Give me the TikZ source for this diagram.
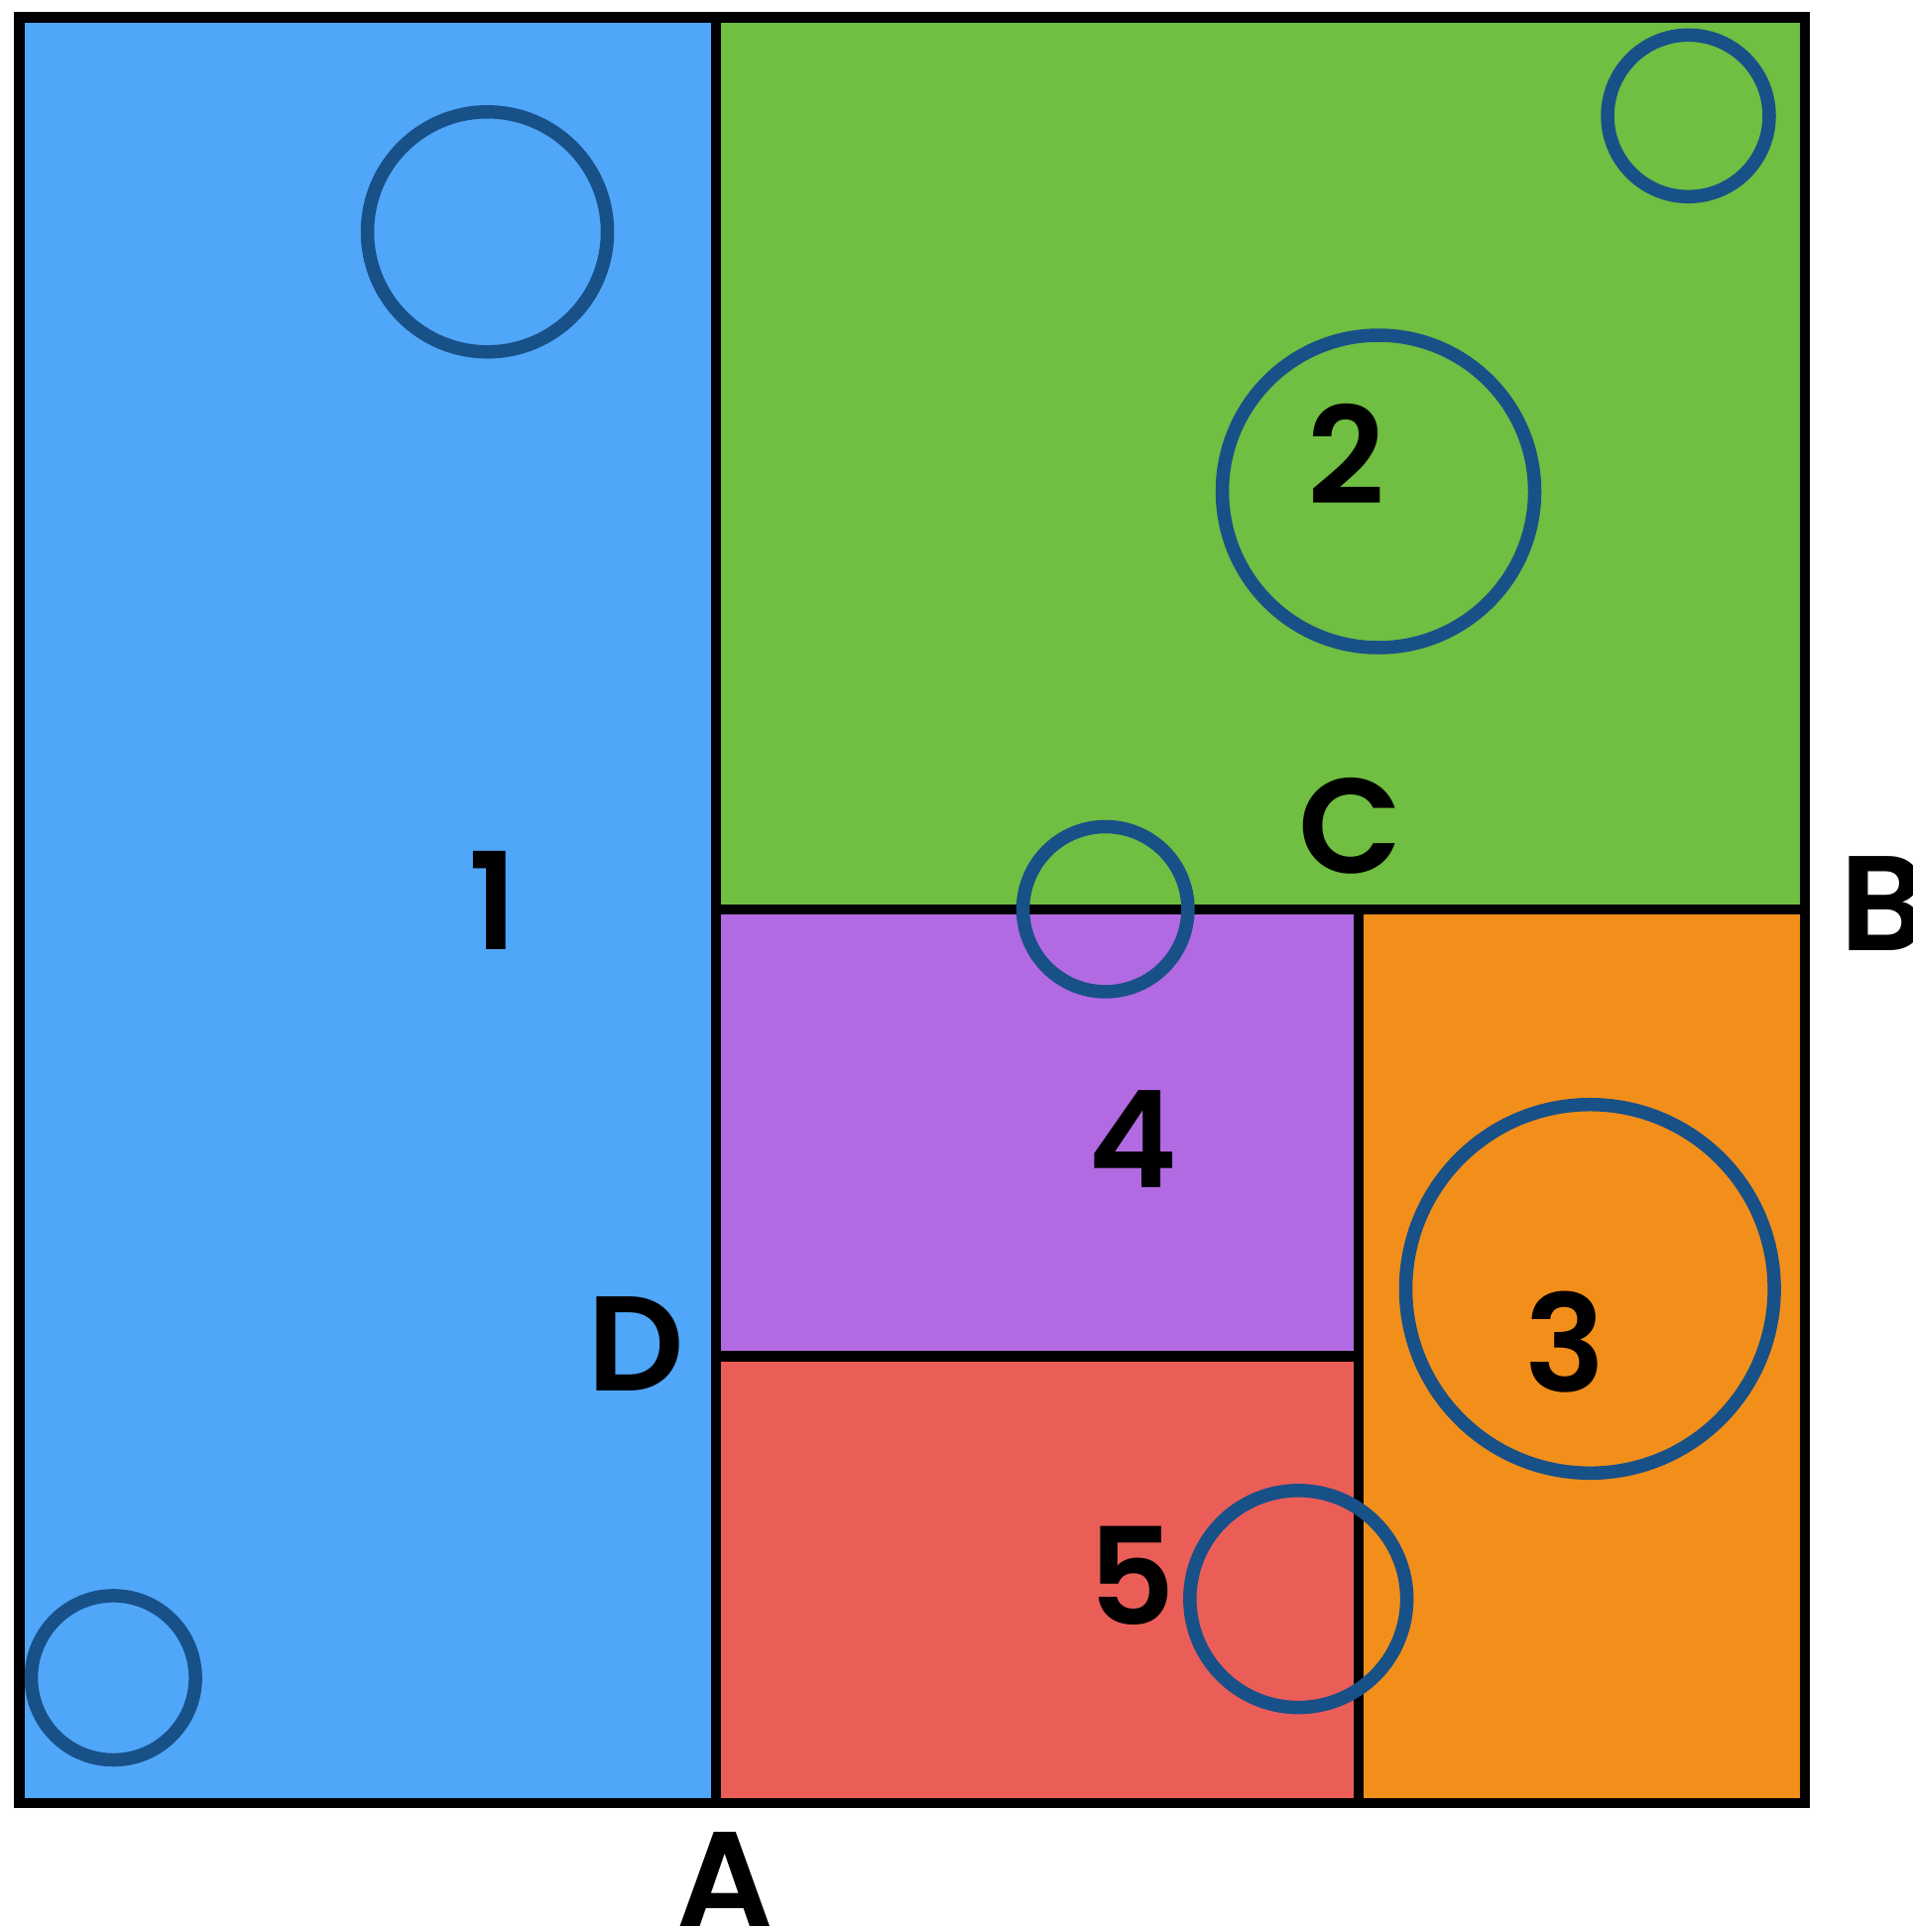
\documentclass[tikz,border=0pt]{standalone}
\usepackage{fontspec}
\setmainfont{Poppins}
\IfFontExistsTF{Poppins SemiBold}{\newfontfamily\lblfont{Poppins SemiBold}}{%
  \IfFontExistsTF{Poppins Medium}{\newfontfamily\lblfont{Poppins Medium}}{\newcommand\lblfont{\bfseries}}}
\definecolor{cblue}{HTML}{50A6F9}
\definecolor{cgreen}{HTML}{70BE42}
\definecolor{cpurple}{HTML}{B26AE2}
\definecolor{corange}{HTML}{F28F1A}
\definecolor{cred}{HTML}{EB5E58}
\definecolor{cring}{HTML}{185088}
\tikzset{
  grid/.style={draw=black,line width=10.5pt,line cap=rect},
  ring/.style={draw=cring,line width=13.5pt},
  lbl/.style={inner sep=0pt,anchor=base,font=\fontsize{136}{136}\lblfont}
}
\begin{document}
\begin{tikzpicture}[x=1pt,y=-1pt]
\useasboundingbox (0,0) rectangle (1929,1948);
% regions
\fill[cblue] (19.5,17.5) rectangle (722,1818);
\fill[cgreen] (722,17.5) rectangle (1820,917);
\fill[cpurple] (722,917) rectangle (1370,1367.5);
\fill[cred] (722,1367.5) rectangle (1370,1818);
\fill[corange] (1370,917) rectangle (1820,1818);
% grid lines
\draw[grid] (19.5,17.5) rectangle (1820,1818);
\draw[grid] (722,17.5) -- (722,1818);
\draw[grid] (722,917) -- (1820,917);
\draw[grid] (1370,917) -- (1370,1818);
\draw[grid] (722,1367.5) -- (1370,1367.5);
% circles
\draw[ring] (491.5,233.8) circle (121);
\draw[ring] (1702.5,116.8) circle (81.5);
\draw[ring] (1390,495.5) circle (157.5);
\draw[ring] (1114.7,916.7) circle (83.2);
\draw[ring] (1603.3,1299.5) circle (185.8);
\draw[ring] (1309.2,1612.2) circle (109.4);
\draw[ring] (114.3,1691.7) circle (82.8);
% labels
\node[lbl] (l1) at (497,957.7) {1};
\node[lbl] (l2) at (1358,508) {2};
\node[lbl] (lC) at (1362,880) {C};
\node[lbl] (lB) at (1899,958) {B};
\node[lbl] (l4) at (1142.7,1197.4) {4};
\node[lbl] (lD) at (641,1402.3) {D};
\node[lbl] (l3) at (1578.5,1403) {3};
\node[lbl] (l5) at (1141,1638) {5};
\node[lbl] (lA) at (731.3,1942) {A};
\end{tikzpicture}
\end{document}
